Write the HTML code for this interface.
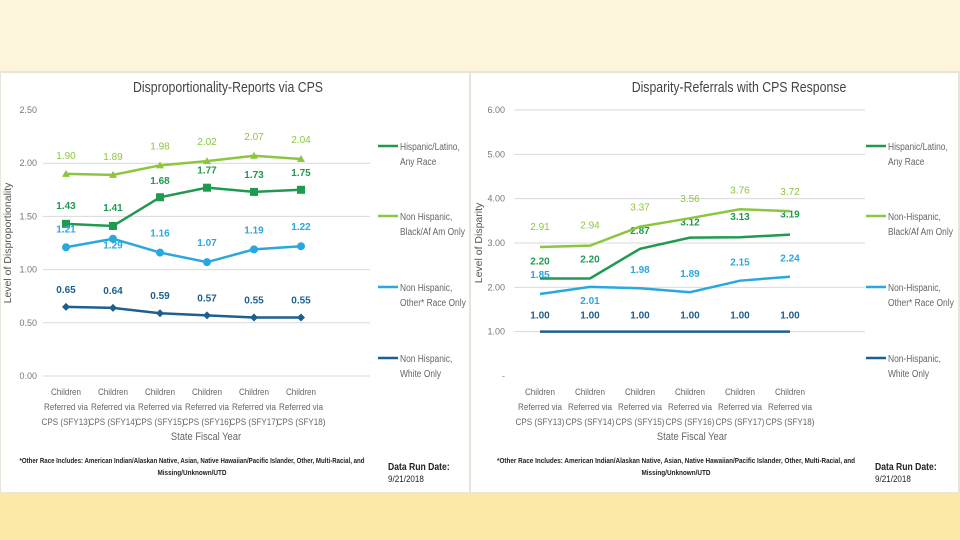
<!DOCTYPE html>
<html><head><meta charset="utf-8"><style>
body{margin:0;width:960px;height:540px;overflow:hidden;background:#fdf6dd;font-family:"Liberation Sans",sans-serif}
#top{position:absolute;left:0;top:0;width:960px;height:71px;background:#fdf6dd}
#bot{position:absolute;left:0;top:493px;width:960px;height:47px;background:#fde9a7}
#mid{position:absolute;left:0;top:71px;width:960px;height:422px;background:#e8e4da}
svg{position:absolute;left:0;top:0;font-family:"Liberation Sans",sans-serif}
</style></head><body>
<div id="top"></div>
<div id="mid"></div>
<div id="bot"></div>
<svg id="s" width="960" height="540"></svg>
<script>
const categories=["Children|Referred via|CPS (SFY13)","Children|Referred via|CPS (SFY14)","Children|Referred via|CPS (SFY15)","Children|Referred via|CPS (SFY16)","Children|Referred via|CPS (SFY17)","Children|Referred via|CPS (SFY18)"];
const seriesNames=["Hispanic/Latino,|Any Race","Non Hispanic,|Black/Af Am Only","Non Hispanic,|Other* Race Only","Non Hispanic,|White Only"];
const seriesNamesR=["Hispanic/Latino,|Any Race","Non-Hispanic,|Black/Af Am Only","Non-Hispanic,|Other* Race Only","Non-Hispanic,|White Only"];
const leftHispanic=[1.43,1.41,1.68,1.77,1.73,1.75];
const leftBlack=[1.90,1.89,1.98,2.02,2.07,2.04];
const leftOther=[1.21,1.29,1.16,1.07,1.19,1.22];
const leftWhite=[0.65,0.64,0.59,0.57,0.55,0.55];
const rightHispanic=[2.20,2.20,2.87,3.12,3.13,3.19];
const rightBlack=[2.91,2.94,3.37,3.56,3.76,3.72];
const rightOther=[1.85,2.01,1.98,1.89,2.15,2.24];
const rightWhite=[1.00,1.00,1.00,1.00,1.00,1.00];
const leftTicks=["0.00","0.50","1.00","1.50","2.00","2.50"];
const leftTickVals=[0,0.5,1,1.5,2,2.5];
const rightTicks=["-","1.00","2.00","3.00","4.00","5.00","6.00"];
const rightTickVals=[0,1,2,3,4,5,6];
const colors=["#1f9a50","#8cc63f","#29a8dd","#1d5f8e"];
const S=document.getElementById('s');
function el(t,a,txt){const e=document.createElementNS('http://www.w3.org/2000/svg',t);for(const k in a)e.setAttribute(k,a[k]);if(txt!==undefined)e.textContent=txt;S.appendChild(e);return e;}
function condense(e,f){const L=e.getComputedTextLength();if(L>0){e.setAttribute('textLength',(L*f).toFixed(1));e.setAttribute('lengthAdjust','spacingAndGlyphs');}}
function chart(o){
  const r=el('rect',{x:o.px,y:73,width:o.pw,height:419,fill:'#fff'});
  
  
  const y=v=>o.y0-(v-o.vmin)/(o.vmax-o.vmin)*(o.y0-o.y1);
  const x=i=>o.x0+i*o.dx;
  const t=el('text',{x:o.tx,y:92,'font-size':15,fill:'#444','text-anchor':'middle'},o.title);
  
  
  condense(t,0.82);
  o.tickVals.forEach((v,i)=>{
    if(o.grid(v)){const g=el('line',{x1:o.gx0,x2:o.gx1,y1:y(v),y2:y(v),stroke:'#d9d9d9','stroke-width':1});
    
    }
    const tl=el('text',{x:o.tlx,y:y(v)+3,'font-size':9,fill:'#777','text-anchor':'end'},o.ticks[i]);
    
    
  });
  const yt=el('text',{x:0,y:0,'font-size':10.5,fill:'#555','text-anchor':'middle',transform:`translate(${o.ytx},${(o.y0+o.y1)/2}) rotate(-90)`},o.ytitle);
  
  
  categories.forEach((c,i)=>{c.split('|').forEach((ln,j)=>{
    const cl=el('text',{x:x(i),y:395+j*15,'font-size':9.5,fill:'#666','text-anchor':'middle'},ln);
    
    
    condense(cl,0.85);});});
  const xt=el('text',{x:o.xtx,y:440,'font-size':11,fill:'#666','text-anchor':'middle'},'State Fiscal Year');
  
  
  condense(xt,0.85);
  o.series.forEach((d,s)=>{
    const p=el('polyline',{points:d.map((v,i)=>x(i)+','+y(v)).join(' '),fill:'none',stroke:colors[s],'stroke-width':2.5});
    
    
    d.forEach((v,i)=>{
      if(o.markers){let m;
        if(s==0)m=el('rect',{x:x(i)-4,y:y(v)-4,width:8,height:8,fill:colors[s]});
        else if(s==1)m=el('polygon',{points:`${x(i)},${y(v)-4} ${x(i)+4},${y(v)+3} ${x(i)-4},${y(v)+3}`,fill:colors[s]});
        else if(s==2)m=el('circle',{cx:x(i),cy:y(v),r:4,fill:colors[s]});
        else m=el('polygon',{points:`${x(i)},${y(v)-4} ${x(i)+4},${y(v)} ${x(i)},${y(v)+4} ${x(i)-4},${y(v)}`,fill:colors[s]});
        
        }
      const dy=o.dys[s][i];
      const lb=el('text',{x:x(i),y:y(v)+dy,'font-size':10,'font-weight':s==1?'normal':'bold',fill:s==3?'#1d5f8e':colors[s],'text-anchor':'middle'},v.toFixed(2));
      
      
    });
    const ly=o.legY[s];
    const ll=el('line',{x1:o.lx,x2:o.lx+20,y1:ly,y2:ly,stroke:colors[s],'stroke-width':2.5});
    
    
    o.names[s].split('|').forEach((ln,j)=>{
      const lt=el('text',{x:o.lx+22,y:ly+4+j*15,'font-size':10,fill:'#666'},ln);
      
      
      condense(lt,0.84);});
  });
  const f1=el('text',{x:o.fx,y:463,'font-size':7.5,fill:'#222','text-anchor':'middle','font-weight':'bold',textLength:o.fw,lengthAdjust:'spacingAndGlyphs'},'*Other Race Includes: American Indian/Alaskan Native, Asian, Native Hawaiian/Pacific Islander, Other, Multi-Racial, and');
  
  
  const f2=el('text',{x:o.fx,y:475,'font-size':7.5,fill:'#222','text-anchor':'middle','font-weight':'bold'},'Missing/Unknown/UTD');
  
  
  condense(f2,0.85);
  const d1=el('text',{x:o.dx0,y:470,'font-size':10.5,fill:'#222','font-weight':'bold'},'Data Run Date:');
  
  
  condense(d1,0.82);
  const d2=el('text',{x:o.dx0,y:482,'font-size':9.5,fill:'#222'},'9/21/2018');
  
  
  condense(d2,0.85);
}
chart({id:'left',px:1,pw:468,tx:228,title:'Disproportionality-Reports via CPS',y0:376,y1:110,vmin:0,vmax:2.5,
  x0:66,dx:47,gx0:43,gx1:370,tlx:37,ytx:11,xtx:206,ytitle:'Level of Disproportionality',ticks:leftTicks,tickVals:leftTickVals,
  grid:v=>v<2.5,markers:true,series:[leftHispanic,leftBlack,leftOther,leftWhite],names:seriesNames,
  dys:[[-15,-15,-13,-14,-14,-14],[-15,-15,-16,-16,-16,-16],[-15,10,-16,-16,-16,-16],[-14,-14,-14,-14,-14,-14]],
  legY:[146,216,287,358],lx:378,fx:192,fw:345,dx0:388});
chart({id:'right',px:471,pw:487,tx:739,title:'Disparity-Referrals with CPS Response',y0:376,y1:110,vmin:0,vmax:6,
  x0:540,dx:50,gx0:514,gx1:865,tlx:505,ytx:482,xtx:692,ytitle:'Level of Disparity',ticks:rightTicks,tickVals:rightTickVals,
  grid:v=>v>0,markers:false,series:[rightHispanic,rightBlack,rightOther,rightWhite],names:seriesNamesR,
  dys:[[-14,-16,-15,-12,-17,-17],[-17,-17,-16,-16,-16,-16],[-16,17,-15,-15,-15,-15],[-13,-13,-13,-13,-13,-13]],
  legY:[146,216,287,358],lx:866,fx:676,fw:358,dx0:875});
</script>
</body></html>
